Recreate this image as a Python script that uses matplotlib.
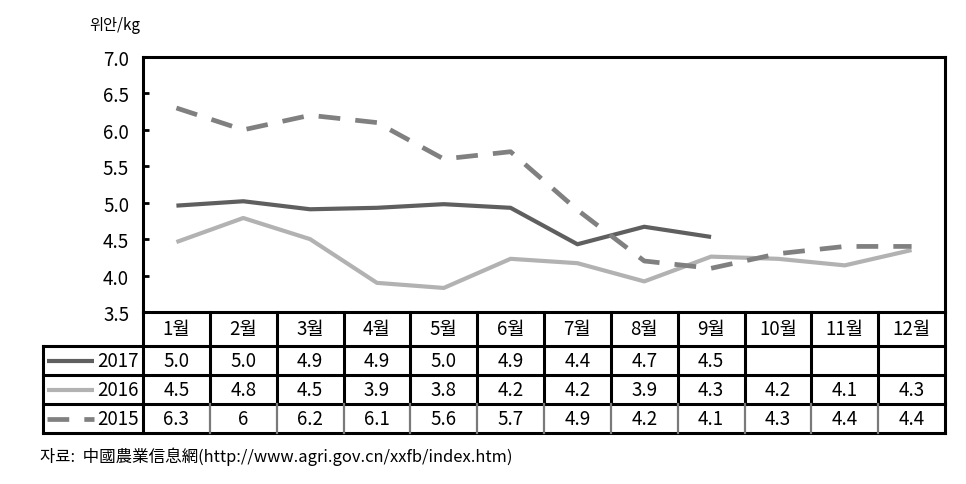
import matplotlib
matplotlib.use("Agg")
import matplotlib.pyplot as plt

plt.rcParams['font.family'] = ['Noto Sans CJK KR', 'DejaVu Sans']

months = ["1월", "2월", "3월", "4월", "5월", "6월", "7월", "8월", "9월", "10월", "11월", "12월"]
years = ["2017", "2016", "2015"]
v2017 = [4.96, 5.02, 4.91, 4.93, 4.98, 4.93, 4.43, 4.67, 4.53]
v2016 = [4.46, 4.79, 4.50, 3.90, 3.83, 4.23, 4.17, 3.92, 4.26, 4.23, 4.14, 4.35]
v2015 = [6.30, 6.00, 6.20, 6.10, 5.60, 5.70, 4.90, 4.20, 4.10, 4.30, 4.40, 4.40]
t2017 = ["5.0", "5.0", "4.9", "4.9", "5.0", "4.9", "4.4", "4.7", "4.5", "", "", ""]
t2016 = ["4.5", "4.8", "4.5", "3.9", "3.8", "4.2", "4.2", "3.9", "4.3", "4.2", "4.1", "4.3"]
t2015 = ["6.3", "6", "6.2", "6.1", "5.6", "5.7", "4.9", "4.2", "4.1", "4.3", "4.4", "4.4"]
yticks = [3.5, 4.0, 4.5, 5.0, 5.5, 6.0, 6.5, 7.0]
unit_label = "위안/kg"
source = "자료:  中國農業信息網(http://www.agri.gov.cn/xxfb/index.htm)"

W, H = 966, 485
fig = plt.figure(figsize=(W / 100, H / 100), dpi=100)
fig.patch.set_facecolor("white")

FS = 13.5

L, R, T, B = 143, 945, 58, 313
ax = fig.add_axes([L / W, 1 - B / H, (R - L) / W, (B - T) / H])
styles = [
    dict(color="#5f5f5f", lw=3.0, ls="-"),
    dict(color="#b2b2b2", lw=3.0, ls="-"),
    dict(color="#808080", lw=3.4, ls=(0, (4.6, 3.2))),
]
series = [v2017, v2016, v2015]
for vals, st in zip(series, styles):
    ax.plot(range(len(vals)), vals, solid_capstyle="butt", dash_capstyle="butt", **st)
ax.set_xlim(-0.5, 11.5)
ax.set_ylim(3.5, 7.0)
ax.set_yticks(yticks)
ax.set_yticklabels([f"{v:.1f}" for v in yticks], fontsize=FS)
ax.set_xticks([])
ax.tick_params(axis="y", direction="in", length=4, width=2, pad=10, colors="black")
for s in ax.spines.values():
    s.set_linewidth(2.2)
    s.set_color("black")
fig.text(89 / W, 1 - 25 / H, unit_label, fontsize=11, va="center", ha="left")

# Table
TL, TT, TB = 43, 313, 434
colw = (R - L) / 12
tax = fig.add_axes([TL / W, 1 - TB / H, (R - TL) / W, (TB - TT) / H])
left_u = -0.5 - (L - TL) / colw
tax.set_xlim(left_u, 11.5)
tax.set_ylim(TB - TT, 0)
tax.axis("off")
rows = [0, 34, 63, 92, 121]
lw = 2.2
for y in rows[1:]:
    tax.plot([left_u, 11.5], [y, y], color="black", lw=lw, solid_capstyle="projecting", clip_on=False)
tax.plot([left_u, left_u], [rows[1], rows[4]], color="black", lw=lw, clip_on=False)
for k in range(13):
    x = -0.5 + k
    tax.plot([x, x], [0, rows[3]], color="black", lw=lw, clip_on=False)
    c = "black" if k in (0, 12) else "#7a7a7a"
    tax.plot([x, x], [rows[3], rows[4]], color=c, lw=1.6 if c != "black" else lw, clip_on=False)

for i, m in enumerate(months):
    tax.text(i, (rows[0] + rows[1]) / 2, m, ha="center", va="center", fontsize=FS)
tables = [t2017, t2016, t2015]
for r, (lab, st, tv) in enumerate(zip(years, styles, tables)):
    yc = (rows[r + 1] + rows[r + 2]) / 2
    for i, s in enumerate(tv):
        tax.text(i, yc, s, ha="center", va="center", fontsize=FS)
    x0 = left_u + 4 / colw
    x1 = left_u + 51 / colw
    tax.plot([x0, x1], [yc, yc], solid_capstyle="butt", dash_capstyle="butt", clip_on=False, **st)
    tax.text(-0.5 - 4 / colw, yc, lab, ha="right", va="center", fontsize=FS)

fig.text(40 / W, 1 - 457 / H, source, fontsize=11.9, va="center", ha="left")

fig.savefig("out.png", dpi=100, facecolor="white")
